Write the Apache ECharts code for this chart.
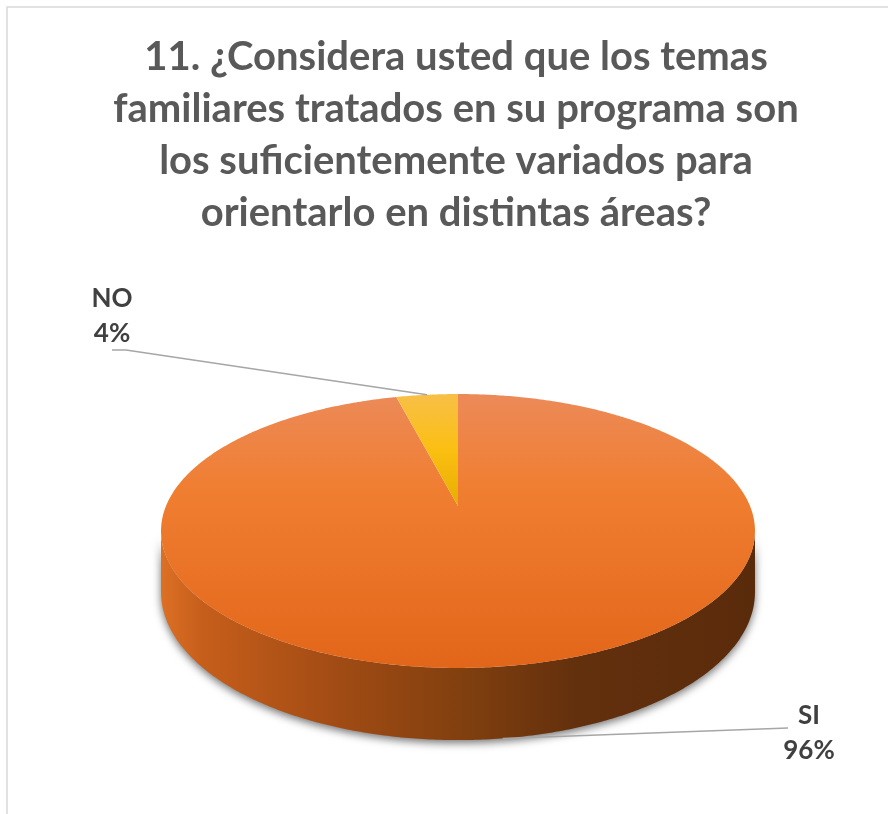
<!DOCTYPE html>
<html>
<head>
<meta charset="utf-8">
<script src="https://cdn.jsdelivr.net/npm/echarts@6/dist/echarts.min.js"></script>
<style>html,body{margin:0;padding:0;background:#fff}#c{width:888px;height:814px}</style>
</head>
<body>
<div id="c"></div>
<script>
// ---- data ----
const categories = ['SI', 'NO'];
const values = [96, 4];
const titleLines = [
  '11. ¿Considera usted que los temas',
  'familiares tratados en su programa son',
  'los suficientemente variados para',
  'orientarlo en distintas áreas?'
];

// ---- layout / style (not data) ----
const FONT = 'Lato, "Open Sans", sans-serif';
const G = { cx: 458, cy: 506, a: 292, b: 132.4, k: 0.1824, D: 59 };
const labelPos = [ {x: 809, y: 733}, {x: 112, y: 316} ];
const leaderEnd = [ [[788, 728]], [[126, 350], [112, 350]] ];
const topStops = [
  [[0, '#ec8a58'], [0.35, '#f07e31'], [1, '#e2661a']],
  [[0, '#f8bf48'], [0.5, '#fbbf12'], [1, '#e6ad00']]
];
const sideStops = [[0, '#dc7024'], [0.07, '#c65e1b'], [0.3, '#a14b14'], [0.5, '#82400f'], [0.7, '#63300d'], [1, '#5a2b0b']];

const total = values.reduce((s, v) => s + v, 0);
function angles(i) {
  let s = 0;
  for (let j = 0; j < i; j++) s += values[j];
  return [s / total * Math.PI * 2, (s + values[i]) / total * Math.PI * 2];
}
function proj(t, drop) {
  const s = Math.sin(t), c = Math.cos(t), w = 1 + G.k * c;
  return [G.cx + G.a * s / w, G.cy - G.b * c / w + (drop || 0) / w];
}
function arc(t0, t1, drop) {
  const n = Math.max(2, Math.ceil(Math.abs(t1 - t0) / 0.01));
  const pts = [];
  for (let i = 0; i <= n; i++) pts.push(proj(t0 + (t1 - t0) * i / n, drop));
  return pts;
}
const visA = Math.acos(-G.k), visB = Math.PI * 2 - Math.acos(-G.k);

function renderSide(params, api) {
  const [s, e] = angles(params.dataIndex);
  const t0 = Math.max(s, visA), t1 = Math.min(e, visB);
  if (t1 <= t0) return null;
  const pts = arc(t0, t1, 0).concat(arc(t1, t0, G.D));
  return {
    type: 'polygon',
    shape: { points: pts },
    style: {
      fill: new echarts.graphic.LinearGradient(0, 0, 1, 0, sideStops.map(x => ({offset: x[0], color: x[1]}))),
      shadowBlur: 9, shadowColor: 'rgba(0,0,0,0.55)', shadowOffsetY: 3
    }
  };
}

function renderTop(params, api) {
  const i = params.dataIndex;
  const [s, e] = angles(i);
  const pts = [[G.cx, G.cy]].concat(arc(s, e, 0));
  const m = (s + e) / 2;
  const front = m > visA && m < visB;
  const anchor = proj(m, front ? G.D : 0);
  const line = [anchor].concat(leaderEnd[i]);
  const pct = Math.round(api.value(0) / total * 100) + '%';
  return {
    type: 'group',
    children: [
      { type: 'polygon', shape: { points: pts },
        style: { fill: new echarts.graphic.LinearGradient(0, 0, 0, 1, topStops[i].map(x => ({offset: x[0], color: x[1]}))) } },
      { type: 'polyline', shape: { points: line }, z2: 5,
        style: { stroke: '#a6a6a6', lineWidth: 1.5, fill: null } },
      { type: 'text', z2: 6,
        style: { x: labelPos[i].x, y: labelPos[i].y, text: categories[i] + '\n' + pct,
          align: 'center', verticalAlign: 'middle', fill: '#404040',
          font: 'bold 26px ' + FONT, lineHeight: 35 } }
    ]
  };
}

const chart = echarts.init(document.getElementById('c'), null, { renderer: 'canvas' });
const seriesData = values.map((v, i) => ({ name: categories[i], value: v }));
chart.setOption({
  backgroundColor: '#fff',
  animation: false,
  graphic: [
    { type: 'rect', shape: { x: 7, y: 7, width: 1000, height: 1000 }, style: { fill: null, stroke: '#d9d9d9', lineWidth: 1.5 }, z: -10 },
    { type: 'text', style: { x: 456, y: 31, text: titleLines.join('\n'), align: 'center', verticalAlign: 'top',
        font: 'bold 40px ' + FONT, fill: '#595959', lineHeight: 52 } }
  ],
  series: [
    { type: 'custom', coordinateSystem: 'none', data: seriesData, renderItem: renderSide, silent: true, z: 1 },
    { type: 'custom', coordinateSystem: 'none', data: seriesData, renderItem: renderTop, silent: true, z: 2 }
  ]
});
</script>
</body>
</html>
